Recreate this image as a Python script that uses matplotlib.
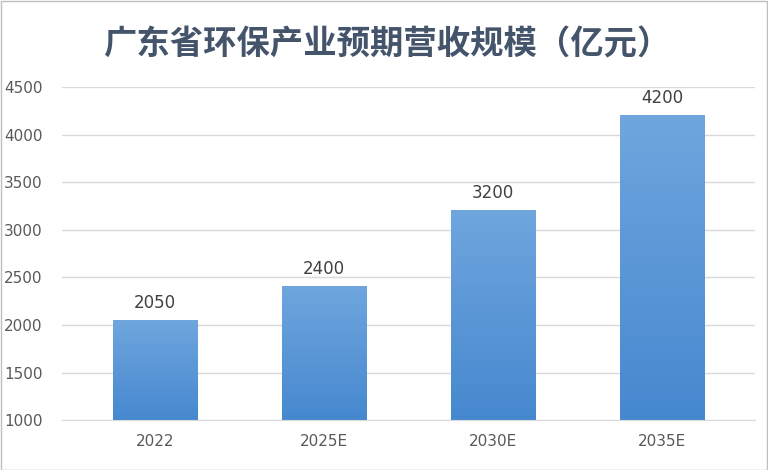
import matplotlib.pyplot as plt
import numpy as np
from matplotlib import font_manager
from matplotlib.colors import LinearSegmentedColormap

categories = ['2022', '2025E', '2030E', '2035E']
values = [2050, 2400, 3200, 4200]
title = '广东省环保产业预期营收规模（亿元）'

# pick whichever sans CJK font is really installed
names = sorted({f.name for f in font_manager.fontManager.ttflist})
cjk = [n for n in names if 'CJK' in n and 'Sans' in n] or [n for n in names if 'CJK' in n]
cjk_name = 'Noto Sans CJK SC' if 'Noto Sans CJK SC' in cjk else (cjk[0] if cjk else 'DejaVu Sans')
plt.rcParams['font.family'] = ['DejaVu Sans']

fig = plt.figure(figsize=(7.68, 4.70), dpi=100)
fig.patches.append(plt.Rectangle((0.001, 0.001), 0.998, 0.997, transform=fig.transFigure,
                                 fill=False, edgecolor='#bfbfbf', linewidth=1))
ax = fig.add_axes([0.081, 0.106, 0.902, 0.709])

x = np.arange(len(categories))
width = 0.5
bars = ax.bar(x, values, width=width, color='none', zorder=2)

cmap = LinearSegmentedColormap.from_list('blu', ['#4688cf', '#6fa6de'])
grad = np.linspace(0, 1, 256).reshape(-1, 1)
for b, v in zip(bars, values):
    x0 = b.get_x()
    ax.imshow(grad, extent=[x0, x0 + b.get_width(), 1000, v], origin='lower',
              cmap=cmap, aspect='auto', zorder=2)
    ax.text(b.get_x() + b.get_width() / 2, v + 90, str(v), ha='center', va='bottom',
            fontsize=12, color='#404040')

ax.set_xlim(-0.55, len(categories) - 0.45)
ax.set_ylim(1000, 4500)
ax.set_yticks(range(1000, 4501, 500))
ax.set_xticks(x)
ax.set_xticklabels(categories)
ax.tick_params(axis='both', length=0, labelsize=11, colors='#595959')
ax.tick_params(axis='y', pad=14)
ax.tick_params(axis='x', pad=10)
ax.grid(axis='y', color='#d9d9d9', linewidth=1, zorder=0)
ax.set_axisbelow(True)
for s in ['top', 'right', 'left']:
    ax.spines[s].set_visible(False)
ax.spines['bottom'].set_color('#d9d9d9')

fig.text(0.503, 0.905, title, ha='center', va='center', fontsize=24,
         fontweight='bold', color='#44546a', fontfamily=cjk_name)

fig.savefig('out.png')
